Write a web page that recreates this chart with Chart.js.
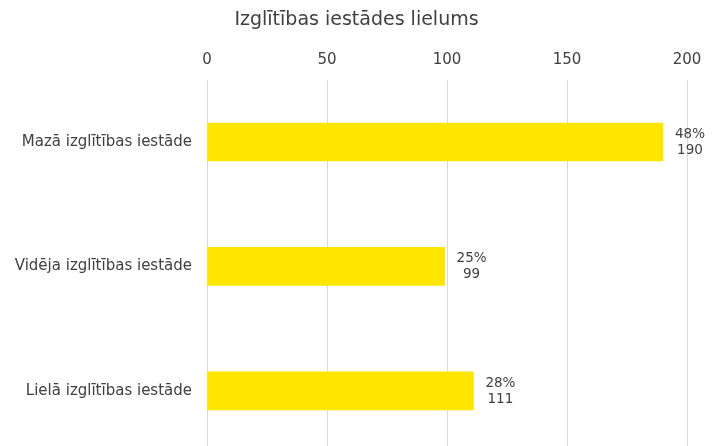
<!DOCTYPE html>
<html>
<head>
<meta charset="utf-8">
<script src="https://cdn.jsdelivr.net/npm/chart.js@4/dist/chart.umd.min.js"></script>
<style>
    html, body { margin: 0; padding: 0; background: #fff; overflow: hidden; }
    canvas { display: block; }
</style>
</head>
<body>
<canvas id="chart" width="713" height="453"></canvas>
<script>
/* Izglītības iestādes lielums — horizontal bar chart */

const categories = ['Mazā izglītības iestāde', 'Vidēja izglītības iestāde', 'Lielā izglītības iestāde'];
const counts = [190, 99, 111];
const percents = [48, 25, 28];
const xTicks = [0, 50, 100, 150, 200];

const BAR_COLOR = '#FFE600';
const TEXT_COLOR = '#404040';
const FONT = 'DejaVu Sans, Verdana, sans-serif';

// two-line value label to the right of each bar: "48%" over "190"
const barLabels = {
    id: 'barLabels',
    afterDatasetsDraw: function (chart) {
        const ctx = chart.ctx;
        const meta = chart.getDatasetMeta(0);
        ctx.save();
        ctx.font = '13.5px ' + FONT;
        ctx.fillStyle = TEXT_COLOR;
        ctx.textAlign = 'center';
        ctx.textBaseline = 'middle';
        meta.data.forEach(function (bar, i) {
            const top = percents[i] + '%';
            const bottom = String(counts[i]);
            const w = Math.max(ctx.measureText(top).width, ctx.measureText(bottom).width);
            const cx = bar.x + 12 + w / 2;
            ctx.fillText(top, cx, bar.y - 7.5);
            ctx.fillText(bottom, cx, bar.y + 8.5);
        });
        ctx.restore();
    }
};

new Chart(document.getElementById('chart'), {
    type: 'bar',
    data: {
        labels: categories,
        datasets: [{
            data: counts,
            backgroundColor: BAR_COLOR,
            borderWidth: 0,
            barThickness: 38
        }]
    },
    options: {
        indexAxis: 'y',
        responsive: false,
        animation: false,
        layout: { padding: 0 },
        plugins: {
            legend: { display: false },
            tooltip: { enabled: false },
            title: {
                display: true,
                text: 'Izglītības iestādes lielums',
                color: TEXT_COLOR,
                font: { family: FONT, size: 19, weight: 'normal' },
                padding: { top: 9, bottom: 0 }
            }
        },
        scales: {
            x: {
                position: 'top',
                min: 0,
                max: 200,
                afterBuildTicks: function (s) {
                    s.ticks = xTicks.map(function (v) { return { value: v }; });
                },
                afterFit: function (s) {
                    s.height = 48;
                    s.paddingLeft = 0;
                    s.paddingRight = 26;
                },
                grid: { color: '#d9d9d9', lineWidth: 1, drawTicks: false },
                border: { display: false },
                ticks: {
                    color: TEXT_COLOR,
                    padding: 11,
                    font: { family: FONT, size: 15 }
                }
            },
            y: {
                afterFit: function (s) {
                    s.width = 207;
                    s.paddingTop = 0;
                    s.paddingBottom = 0;
                },
                grid: { display: false },
                border: { display: false },
                ticks: {
                    color: TEXT_COLOR,
                    padding: 7,
                    font: { family: FONT, size: 15 }
                }
            }
        }
    },
    plugins: [barLabels]
});
</script>
</body>
</html>
